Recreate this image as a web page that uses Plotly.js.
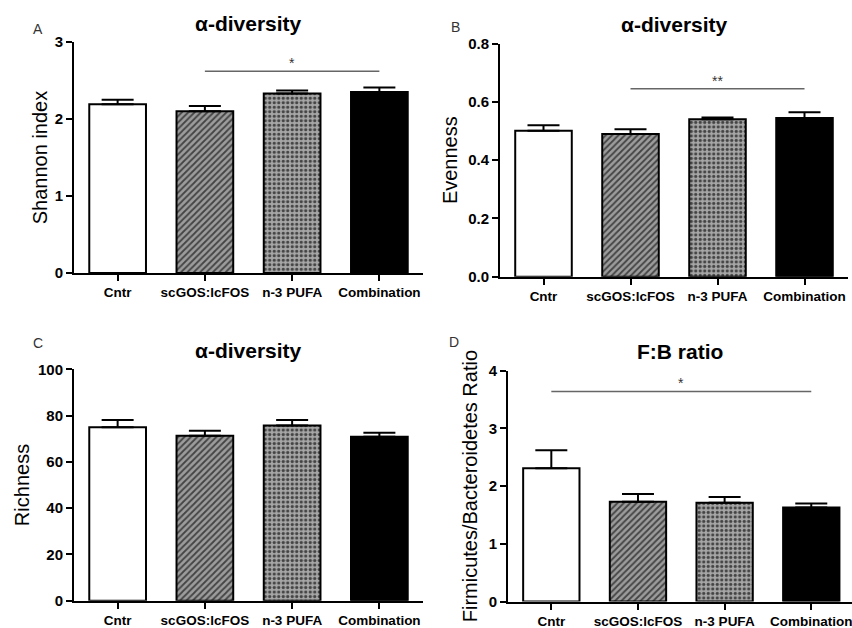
<!DOCTYPE html>
<html>
<head>
<meta charset="utf-8">
<script src="https://cdn.plot.ly/plotly-3.0.1.min.js"></script>
<style>html,body{margin:0;padding:0;background:#fff;}#chart{width:852px;height:628px;}</style>
</head>
<body>
<div id="chart"></div>
<script>
// ---- data ----
const categories = ['Cntr', 'scGOS:lcFOS', 'n-3 PUFA', 'Combination'];
const shannonMean = [2.19, 2.10, 2.33, 2.35];
const shannonSem  = [0.06, 0.07, 0.04, 0.06];
const evennessMean = [0.501, 0.490, 0.541, 0.545];
const evennessSem  = [0.019, 0.016, 0.006, 0.020];
const richnessMean = [75.0, 71.3, 75.7, 70.9];
const richnessSem  = [3.1, 2.1, 2.4, 1.7];
const fbMean = [2.31, 1.73, 1.71, 1.63];
const fbSem  = [0.31, 0.135, 0.10, 0.07];
// significance brackets: [fromIndex, toIndex, yValue, label]
const sigShannon  = [1, 3, 2.62, '*'];
const sigEvenness = [1, 3, 0.645, '**'];
const sigFB       = [0, 3, 3.64, '*'];
const panelTitles = ['α-diversity', 'α-diversity', 'α-diversity', 'F:B ratio'];
const yTitles = ['Shannon index', 'Evenness', 'Richness', 'Firmicutes/Bacteroidetes Ratio'];
const panelLetters = ['A', 'B', 'C', 'D'];

// ---- styling ----
const FONT = 'Arial, "Liberation Sans", sans-serif';
const W = 852, H = 628;
const fillColors = ['#ffffff', '#9c9c9c', '#a6a6a6', '#000000'];
const patShape = ['', '/', '.', ''];
const patFg = ['#ffffff', '#3c3c3c', '#5e5e5e', '#000000'];

function barTrace(means, sems, ax) {
  return {
    type: 'bar', x: categories, y: means,
    xaxis: 'x' + ax, yaxis: 'y' + ax,
    width: 0.65,
    marker: {
      color: fillColors,
      line: {color: '#000', width: 2},
      pattern: {shape: patShape, fgcolor: patFg, fillmode: 'overlay', fgopacity: 1,
                size: 4.5, solidity: 0.4}
    },
    error_y: {type: 'data', symmetric: false, array: sems, arrayminus: means.map(() => 0),
              color: '#000', thickness: 2, width: 16},
    hoverinfo: 'x+y', showlegend: false
  };
}

const data = [
  barTrace(shannonMean, shannonSem, ''),
  barTrace(evennessMean, evennessSem, '2'),
  barTrace(richnessMean, richnessSem, '3'),
  barTrace(fbMean, fbSem, '4')
];

// pixel boxes for plot areas [left, right, top, bottom]
const boxes = [
  [74, 423, 42, 273],
  [500, 848, 43.7, 276.7],
  [74, 423, 369.3, 600.7],
  [508, 852, 370.7, 601.5]
];
const yRanges = [[0, 3], [0, 0.8], [0, 100], [0, 4]];
const yDticks = [1, 0.2, 20, 1];
const yFormats = ['', '.1f', '', ''];
const xRanges = [[-0.5, 3.5], [-0.5, 3.5], [-0.5, 3.5], [-0.5, 3.47]];
const titleStandoff = [2, 5, 3, 6];

const layout = {
  width: W, height: H,
  margin: {l: 0, r: 0, t: 0, b: 0},
  paper_bgcolor: '#fff', plot_bgcolor: 'rgba(0,0,0,0)',
  font: {family: FONT, color: '#000'},
  shapes: [], annotations: []
};

boxes.forEach((b, i) => {
  const sx = i === 0 ? '' : String(i + 1);
  layout['xaxis' + sx] = {
    domain: [b[0] / W, b[1] / W], anchor: 'y' + sx,
    type: 'category', range: xRanges[i],
    showline: true, linecolor: '#000', linewidth: 2,
    ticks: 'outside', ticklen: 6, tickwidth: 2, tickcolor: '#000',
    tickfont: {family: FONT, size: 13.5, weight: 'bold', color: '#000'},
    showgrid: false, zeroline: false, fixedrange: true
  };
  layout['yaxis' + sx] = {
    domain: [1 - b[3] / H, 1 - b[2] / H], anchor: 'x' + sx,
    range: yRanges[i], dtick: yDticks[i], tick0: 0, tickformat: yFormats[i],
    showline: true, linecolor: '#000', linewidth: 2,
    ticks: 'outside', ticklen: 6, tickwidth: 2, tickcolor: '#000',
    tickfont: {family: FONT, size: 15, weight: 'bold', color: '#000'},
    showgrid: false, zeroline: false, fixedrange: true,
    title: {text: yTitles[i], font: {family: FONT, size: 20, color: '#000'}, standoff: titleStandoff[i]}
  };
  // panel title
  layout.annotations.push({
    xref: 'paper', yref: 'paper', x: (b[0] + b[1]) / 2 / W, y: 1 - (b[2] - 19) / H,
    text: '<b>' + panelTitles[i] + '</b>', showarrow: false,
    font: {family: FONT, size: 21, color: '#000'}, xanchor: 'center', yanchor: 'middle'
  });
});

// panel letters
const letterPos = [[38, 29], [456, 27], [38, 343], [454, 342]];
panelLetters.forEach((t, i) => {
  layout.annotations.push({
    xref: 'paper', yref: 'paper', x: letterPos[i][0] / W, y: 1 - letterPos[i][1] / H,
    text: t, showarrow: false, font: {family: FONT, size: 14, color: '#333'},
    xanchor: 'center', yanchor: 'middle'
  });
});

// significance brackets
function sig(s, ax) {
  const xr = 'x' + ax, yr = 'y' + ax;
  layout.shapes.push({type: 'line', xref: xr, yref: yr,
    x0: s[0], x1: s[1], y0: s[2], y1: s[2], line: {color: '#666', width: 1.5}});
  layout.annotations.push({xref: xr, yref: yr, x: (s[0] + s[1]) / 2, y: s[2],
    text: s[3], showarrow: false, yanchor: 'bottom', yshift: -2,
    font: {family: FONT, size: 14, color: '#333'}});
}
sig(sigShannon, '');
sig(sigEvenness, '2');
sig(sigFB, '4');

Plotly.newPlot('chart', data, layout, {displayModeBar: false, staticPlot: true});
</script>
</body>
</html>
